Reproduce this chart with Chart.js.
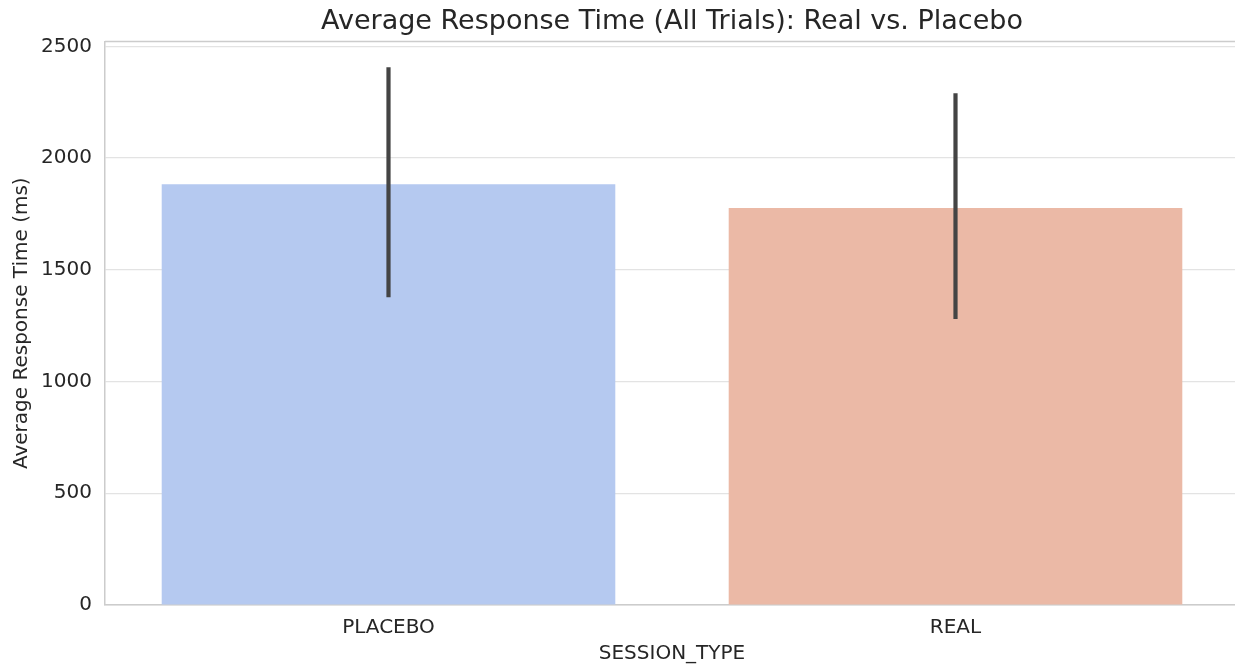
<!DOCTYPE html>
<html>
<head>
<meta charset="utf-8">
<script src="https://cdn.jsdelivr.net/npm/chart.js@4/dist/chart.umd.min.js"></script>
<style>
    html, body { margin: 0; padding: 0; background: #fff; overflow: hidden; }
    #wrap { width: 1239px; height: 666px; }
</style>
</head>
<body>
<div id="wrap"><canvas id="chart"></canvas></div>
<script>
const categories = ['PLACEBO', 'REAL'];
const meanValues = [1883, 1776];
const errorLow = [1377, 1280];
const errorHigh = [2406, 2290];
const yTicks = [0, 500, 1000, 1500, 2000, 2500];
const barColors = ['#b5c9f0', '#ebb9a6'];

const FONT = "'DejaVu Sans', sans-serif";
const TEXT_COLOR = '#262626';

// draws the vertical error bars and the top spine
const errorBarPlugin = {
    id: 'errorBars',
    afterDatasetsDraw(chart) {
        const { ctx, scales, chartArea } = chart;
        const x = scales.x;
        const y = scales.y;
        ctx.save();
        ctx.strokeStyle = '#444444';
        ctx.lineWidth = 4.2;
        ctx.lineCap = 'butt';
        categories.forEach((cat, i) => {
            const px = x.getPixelForValue(i);
            ctx.beginPath();
            ctx.moveTo(px, y.getPixelForValue(errorLow[i]));
            ctx.lineTo(px, y.getPixelForValue(errorHigh[i]));
            ctx.stroke();
        });
        ctx.strokeStyle = '#cccccc';
        ctx.lineWidth = 1.5;
        ctx.beginPath();
        ctx.moveTo(chartArea.left, chartArea.top);
        ctx.lineTo(chartArea.right, chartArea.top);
        ctx.stroke();
        ctx.restore();
    },
};

const context = document.getElementById('chart').getContext('2d');

new Chart(context, {
    type: 'bar',
    data: {
        labels: categories,
        datasets: [{
            data: meanValues,
            backgroundColor: barColors,
            borderWidth: 0,
            categoryPercentage: 0.8,
            barPercentage: 1.0,
        }],
    },
    options: {
        responsive: true,
        maintainAspectRatio: false,
        animation: false,
        layout: { padding: { top: 0, right: 0, left: 10, bottom: 0 } },
        scales: {
            x: {
                afterFit: (scale) => {
                    scale.height = 61;
                },
                grid: { display: false, drawTicks: false },
                border: { display: true, color: '#cccccc', width: 1.5 },
                ticks: {
                    color: TEXT_COLOR,
                    font: { family: FONT, size: 20 },
                    padding: 11,
                },
                title: {
                    display: true,
                    text: 'SESSION_TYPE',
                    color: TEXT_COLOR,
                    font: { family: FONT, size: 20 },
                    padding: { top: 1, bottom: 0 },
                },
            },
            y: {
                min: 0,
                max: 2522,
                afterBuildTicks: (scale) => {
                    scale.ticks = yTicks.map((v) => ({ value: v }));
                },
                afterFit: (scale) => {
                    scale.width = 95;
                },
                grid: { color: '#e3e3e3', lineWidth: 1.2, drawTicks: false },
                border: { display: true, color: '#cccccc', width: 1.5 },
                ticks: {
                    color: TEXT_COLOR,
                    font: { family: FONT, size: 20 },
                    padding: 13,
                    callback: (value) => String(value),
                },
                title: {
                    display: true,
                    text: 'Average Response Time (ms)',
                    color: TEXT_COLOR,
                    font: { family: FONT, size: 20 },
                    padding: { top: 0, bottom: 4 },
                },
            },
        },
        plugins: {
            legend: { display: false },
            tooltip: { enabled: false },
            title: {
                display: true,
                fullSize: false,
                text: 'Average Response Time (All Trials): Real vs. Placebo',
                color: TEXT_COLOR,
                font: { family: FONT, size: 27, weight: 'normal' },
                padding: { top: 6, bottom: 3 },
            },
        },
    },
    plugins: [errorBarPlugin],
});
</script>
</body>
</html>
